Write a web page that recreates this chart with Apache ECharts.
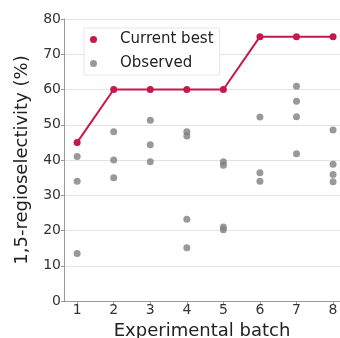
<!DOCTYPE html>
<html><head><meta charset="utf-8">
<script src="https://cdn.jsdelivr.net/npm/echarts@6/dist/echarts.min.js"></script>
<style>html,body{margin:0;padding:0;background:#fff}#c{width:340px;height:338px}</style>
</head><body><div id="c"></div>
<script>
const batches = [1, 2, 3, 4, 5, 6, 7, 8];
const currentBest = [45, 60, 60, 60, 60, 75, 75, 75];
const observedBatch = [1, 1, 1, 2, 2, 2, 3, 3, 3, 4, 4, 4, 4, 5, 5, 5, 5, 6, 6, 6, 7, 7, 7, 7, 8, 8, 8, 8];
const observedValue = [41, 34, 13.5, 48, 40, 35, 51.3, 44.3, 39.5, 48, 46.8, 23.2, 15.1, 39.5, 38.5, 21, 20.2, 52.2, 36.4, 34, 60.9, 56.7, 52.3, 41.8, 48.5, 38.8, 35.9, 33.8];
const yTicks = [0, 10, 20, 30, 40, 50, 60, 70, 80];

const chart = echarts.init(document.getElementById('c'));
const font = 'DejaVu Sans';
chart.setOption({
  animation: false,
  textStyle: { fontFamily: font },
  grid: { left: 64, top: 19, right: 0, bottom: 37, containLabel: false, outerBoundsMode: 'none' },
  legend: {
    orient: 'vertical', left: 84, top: 28, itemGap: 9,
    itemWidth: 7, itemHeight: 7,
    textStyle: { fontSize: 15, color: '#222', fontFamily: font, padding: [0, 0, 0, 18] },
    backgroundColor: 'rgba(255,255,255,0.85)', borderColor: '#e6e6e6', borderWidth: 1, padding: [4, 6],
    data: [{ name: 'Current best', icon: 'circle' }, { name: 'Observed', icon: 'circle' }]
  },
  xAxis: {
    type: 'value', min: 0.64, max: 8.19,
    name: 'Experimental batch', nameLocation: 'middle', nameGap: 14,
    nameTextStyle: { fontSize: 18, color: '#222', fontFamily: font },
    axisLine: { lineStyle: { color: '#999' } },
    axisTick: { show: true, customValues: batches, length: 3, lineStyle: { color: '#999' } },
    axisLabel: { customValues: batches, fontSize: 14, color: '#333', margin: 2 },
    splitLine: { show: false }
  },
  yAxis: {
    type: 'value', min: 0, max: 80, interval: 10,
    name: '1,5-regioselectivity (%)', nameLocation: 'middle', nameGap: 33,
    nameTextStyle: { fontSize: 18, color: '#222', fontFamily: font },
    axisLine: { show: true, lineStyle: { color: '#999' } },
    axisTick: { show: true, length: 3, lineStyle: { color: '#999' } },
    axisLabel: { fontSize: 14, color: '#333', margin: 3, formatter: v => yTicks.includes(v) ? String(v) : '' },
    splitLine: { show: true, lineStyle: { color: '#e3e3e3', width: 1 } }
  },
  series: [
    {
      name: 'Observed', type: 'scatter', symbolSize: 7,
      itemStyle: { color: '#7f7f7f' },
      data: observedBatch.map((b, i) => [b, observedValue[i]]), z: 2
    },
    {
      name: 'Current best', type: 'line', symbol: 'circle', symbolSize: 7, showSymbol: true,
      itemStyle: { color: '#c8174a' }, lineStyle: { color: '#c8174a', width: 2 },
      data: batches.map((b, i) => [b, currentBest[i]]), z: 3
    }
  ]
});
</script></body></html>
